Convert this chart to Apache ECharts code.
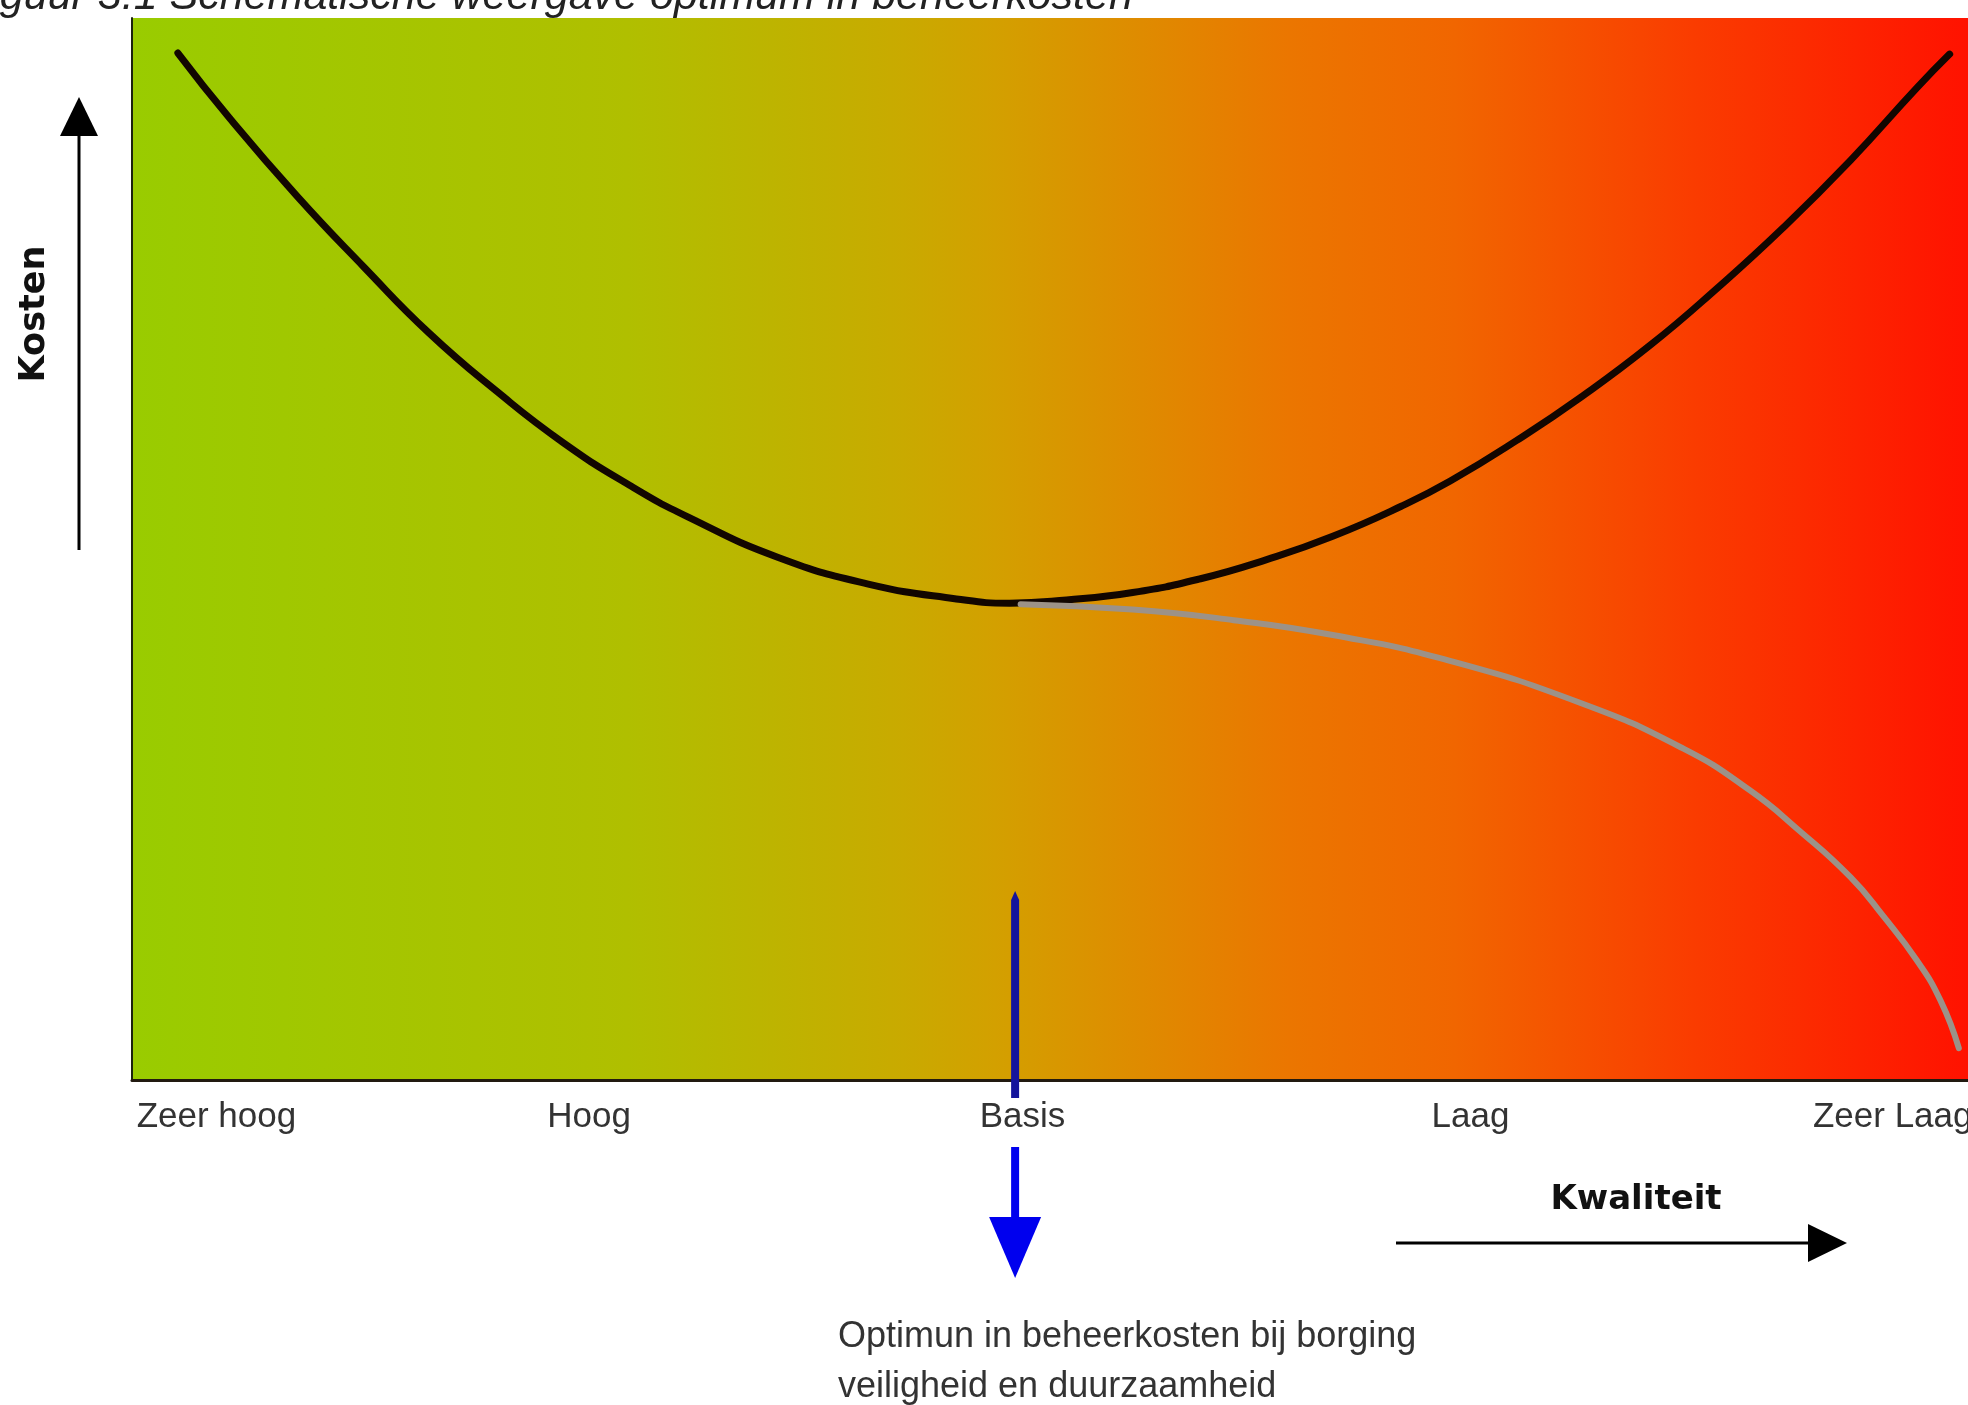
<!DOCTYPE html>
<html>
<head>
<meta charset="utf-8">
<script src="https://cdn.jsdelivr.net/npm/echarts@6/dist/echarts.min.js"></script>
<style>
html,body{margin:0;padding:0;background:#fff;}
#c{width:1968px;height:1405px;}
</style>
</head>
<body>
<div id="c"></div>
<script>
// Kwaliteit (x, 0 = zeer hoog ... 100 = zeer laag) and Kosten (y, 0..100)
const totalCostX = [2.5, 5.3, 9.0, 12.6, 16.2, 19.9, 23.5, 27.1, 30.3, 35.2, 40.1, 44.9, 47.8, 50.9, 54.5, 58.2, 61.8, 65.4, 69.1, 71.8, 75.4, 79.0, 82.7, 86.3, 89.9, 93.6, 97.2, 99.0];
const totalCostY = [96.7, 90.6, 83.2, 76.6, 70.3, 64.8, 60.0, 56.0, 53.0, 49.2, 46.7, 45.3, 44.9, 45.2, 45.9, 47.2, 49.0, 51.2, 54.0, 56.4, 60.2, 64.4, 69.2, 74.5, 80.2, 86.6, 93.4, 96.6];
const lowerCostX = [48.4, 54.5, 60.0, 65.4, 71.5, 78.9, 84.5, 88.1, 90.8, 93.6, 95.4, 97.2, 98.5, 99.5];
const lowerCostY = [44.8, 44.3, 43.3, 41.9, 39.6, 35.5, 31.2, 27.3, 23.5, 19.1, 15.4, 11.3, 7.5, 3.0];
const tickLabels = ['Zeer hoog', 'Hoog', 'Basis', 'Laag', 'Zeer Laag'];
const tickPositions = [4.6, 24.9, 48.5, 72.9, 95.9];
const optimumX = 48.1;
const titleText = 'Figuur 3.1 Schematische weergave optimum in beheerkosten';
const xAxisName = 'Kwaliteit';
const yAxisName = 'Kosten';
const noteLines = ['Optimun in beheerkosten bij borging', 'veiligheid en duurzaamheid'];

const zip = (xs, ys) => xs.map((x, i) => [x, ys[i]]);

const chart = echarts.init(document.getElementById('c'), null, {renderer: 'canvas'});
const bg = new echarts.graphic.LinearGradient(0, 0, 1, 0, [
  {offset: 0, color: '#99CC00'},
  {offset: 0.27, color: '#B0BF00'},
  {offset: 0.42, color: '#C9AA00'},
  {offset: 0.47, color: '#D3A000'},
  {offset: 0.63, color: '#EB7600'},
  {offset: 0.72, color: '#F16600'},
  {offset: 0.85, color: '#FA3C00'},
  {offset: 1, color: '#FF1200'}
]);

chart.setOption({
  animation: false,
  backgroundColor: '#ffffff',
  grid: {
    left: 132, right: 0, top: 18, bottom: 325,
    show: true, backgroundColor: bg, borderWidth: 0,
    containLabel: false, outerBoundsMode: 'none'
  },
  xAxis: {
    type: 'value', min: 0, max: 100,
    axisLine: {show: true, onZero: false, lineStyle: {color: '#221a10', width: 3}},
    axisTick: {show: false},
    splitLine: {show: false},
    axisLabel: {
      show: true,
      customValues: tickPositions,
      margin: 20,
      color: '#333333',
      fontFamily: '"Liberation Sans", Arial, sans-serif',
      fontSize: 35,
      hideOverlap: false,
      showMinLabel: true, showMaxLabel: true,
      formatter: function (v) {
        let best = 0;
        for (let i = 1; i < tickPositions.length; i++) {
          if (Math.abs(tickPositions[i] - v) < Math.abs(tickPositions[best] - v)) best = i;
        }
        return tickLabels[best];
      }
    }
  },
  yAxis: {
    type: 'value', min: 0, max: 100,
    axisLine: {show: true, onZero: false, lineStyle: {color: '#1c2410', width: 2}},
    axisTick: {show: false},
    splitLine: {show: false},
    axisLabel: {show: false}
  },
  series: [
    {
      name: 'Kosten totaal', type: 'line', data: zip(totalCostX, totalCostY),
      smooth: true, symbol: 'none', z: 3,
      lineStyle: {color: '#120600', width: 7, cap: 'round'}
    },
    {
      name: 'Kosten laag', type: 'line', data: zip(lowerCostX, lowerCostY),
      smooth: true, symbol: 'none', z: 4,
      lineStyle: {color: '#9c9288', width: 6, cap: 'round'}
    }
  ]
});

// annotation arrows, positioned from the axis scale where relevant
const pTop = chart.convertToPixel({gridIndex: 0}, [optimumX, 17.8]);
const pAxis = chart.convertToPixel({gridIndex: 0}, [optimumX, 0]);
const bx = pTop[0];
const axisY = pAxis[1];

chart.setOption({
  graphic: [
    // title (partially cut at top, as in the source)
    {type: 'text', left: -36, top: -24, z: 10,
      style: {text: titleText, font: 'italic 43px "Liberation Sans", Arial, sans-serif', fill: '#222222'}},
    // Kosten label + arrow
    {type: 'text', x: 35, y: 314, rotation: Math.PI / 2, z: 10,
      style: {text: yAxisName, font: 'bold 35px "DejaVu Sans", sans-serif', fill: '#111111', align: 'center', verticalAlign: 'middle'}},
    {type: 'line', z: 10, shape: {x1: 79, y1: 550, x2: 79, y2: 130}, style: {stroke: '#000', lineWidth: 3}},
    {type: 'polygon', z: 10, shape: {points: [[79, 97], [60, 136], [98, 136]]}, style: {fill: '#000'}},
    // Kwaliteit label + arrow
    {type: 'text', x: 1636, y: 1200, z: 10,
      style: {text: xAxisName, font: 'bold 34px "DejaVu Sans", sans-serif', fill: '#111111', align: 'center', verticalAlign: 'middle'}},
    {type: 'line', z: 10, shape: {x1: 1396, y1: 1243, x2: 1815, y2: 1243}, style: {stroke: '#000', lineWidth: 3}},
    {type: 'polygon', z: 10, shape: {points: [[1847, 1243], [1808, 1224], [1808, 1262]]}, style: {fill: '#000'}},
    // blue optimum arrow
    {type: 'polygon', z: 10, shape: {points: [[bx, pTop[1]], [bx + 4, pTop[1] + 9], [bx + 4, axisY + 18], [bx - 4, axisY + 18], [bx - 4, pTop[1] + 9]]}, style: {fill: '#14149c'}},
    {type: 'line', z: 10, shape: {x1: bx, y1: axisY + 67, x2: bx, y2: axisY + 142}, style: {stroke: '#0000ee', lineWidth: 8}},
    {type: 'polygon', z: 10, shape: {points: [[bx - 26, axisY + 137], [bx + 26, axisY + 137], [bx, axisY + 198]]}, style: {fill: '#0000ee'}},
    // note text
    {type: 'text', left: 838, top: 1312, z: 10,
      style: {text: noteLines.join('\n'), font: '36px "Liberation Sans", Arial, sans-serif', lineHeight: 50, fill: '#333333'}}
  ]
});
</script>
</body>
</html>
